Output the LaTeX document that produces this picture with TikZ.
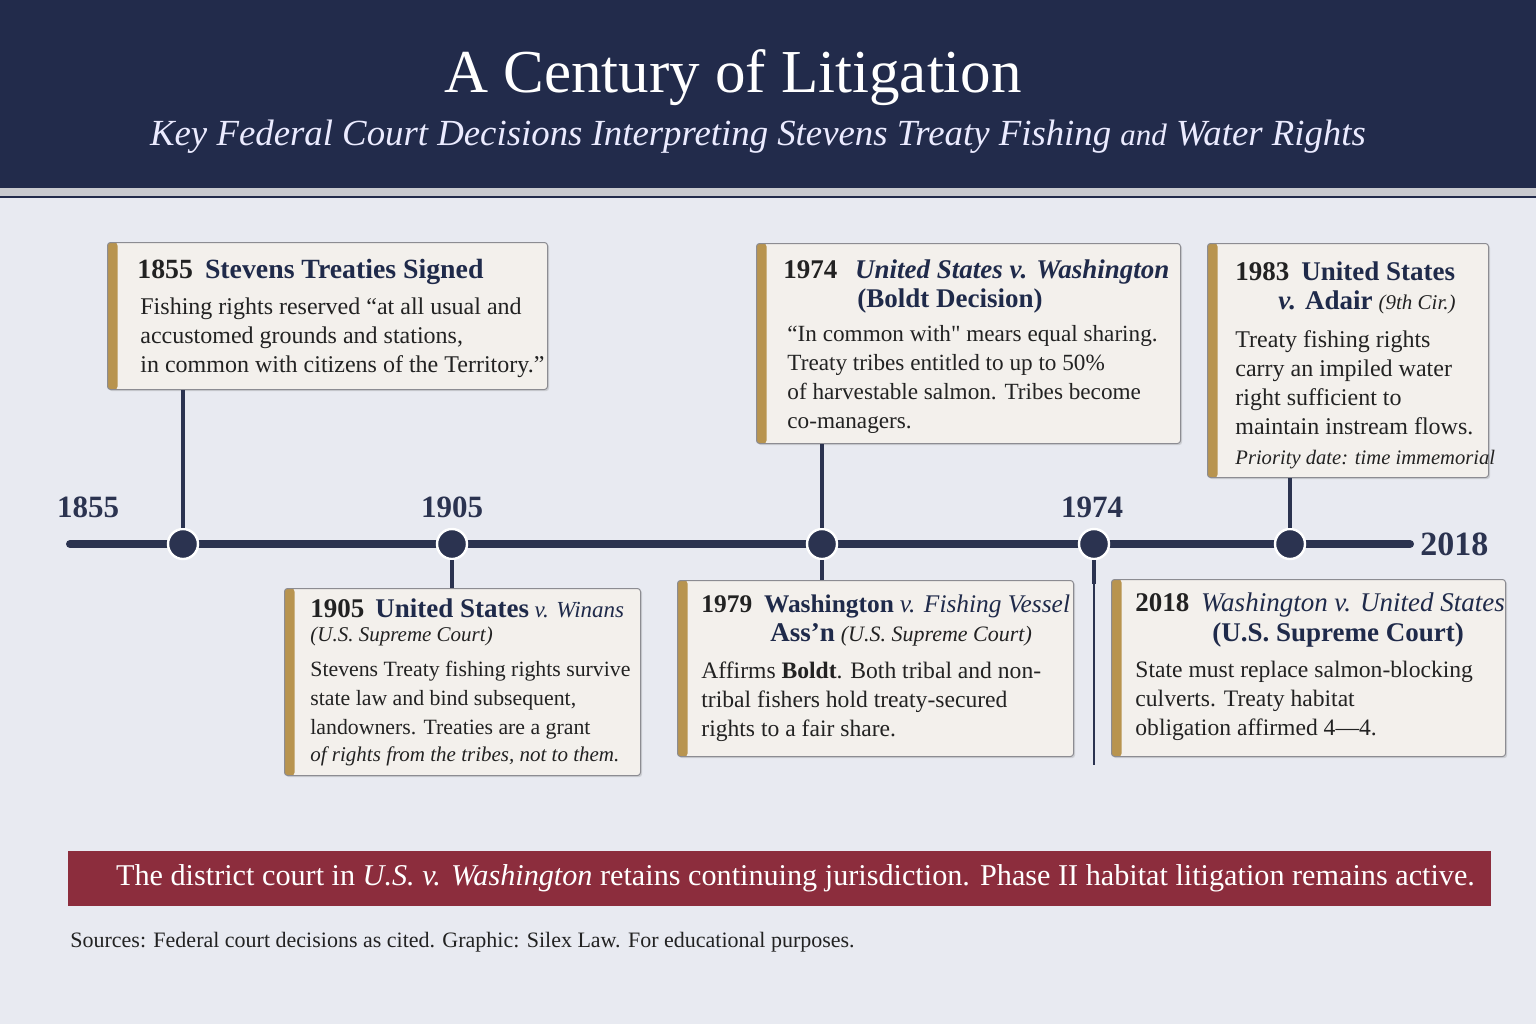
\documentclass[tikz,border=0pt]{standalone}
\usepackage{fontspec}
\setmainfont{Liberation Serif}
\usetikzlibrary{shadows}

\definecolor{hdrnavy}{HTML}{222B4B}
\definecolor{linenavy}{HTML}{2B3350}
\definecolor{inknavy}{HTML}{1F2A4A}
\definecolor{inkdark}{HTML}{222222}
\definecolor{goldbar}{HTML}{B8944F}
\definecolor{cardfill}{HTML}{F3F0EC}
\definecolor{cardedge}{HTML}{8C8C92}
\definecolor{bannerred}{HTML}{8C2D3D}
\definecolor{paper}{HTML}{E8EAF1}

\newcommand{\ttlsize}{13.5}
\newcommand{\yr}[1]{{\fontsize{\ttlsize}{14.5}\selectfont\bfseries\color{inkdark}#1}\enspace}
\newcommand{\hd}[1]{{\fontsize{\ttlsize}{14.5}\selectfont\bfseries\color{inknavy}#1}}
\newcommand{\hdit}[1]{{\fontsize{\ttlsize}{14.5}\selectfont\itshape\color{inknavy}#1}}
\newcommand{\court}[1]{{\fontsize{10.5}{14.5}\selectfont\itshape #1}}
\newcommand{\straightq}{{\addfontfeature{Ligatures=TeXOff}"}}

\tikzset{
  card/.style={draw=cardedge, line width=0.5pt, fill=cardfill, rounded corners=1.5pt,
    anchor=north west, inner sep=0pt,
    drop shadow={shadow xshift=0.8pt, shadow yshift=-0.8pt, opacity=0.25},
    path picture={\fill[goldbar] (path picture bounding box.north west) rectangle ([xshift=5pt]path picture bounding box.south west);}},
  ctext/.style={anchor=north west, inner sep=0pt, align=left, text=inkdark,
    font=\fontsize{12}{14.5}\selectfont},
  stem/.style={linenavy, line width=2.3pt},
  thinstem/.style={linenavy, line width=0.6pt},
  dot/.style={circle, fill=linenavy, draw=white, line width=1.2pt, minimum size=15pt, inner sep=0pt},
  year/.style={anchor=base, text=linenavy, font=\fontsize{15.5}{16}\selectfont\bfseries}
}

\begin{document}
\begin{tikzpicture}[x=0.5pt, y=-0.5pt]
  \useasboundingbox (0,0) rectangle (1536,1024);

  % background and header band
  \fill[paper] (0,0) rectangle (1536,1024);
  \fill[hdrnavy] (0,0) rectangle (1536,188);
  \fill[gray!30!paper] (0,188) rectangle (1536,196);
  \draw[line width=1.1pt, hdrnavy] (0,197) -- (1536,197);

  \node[anchor=base, text=white, font=\fontsize{30.5}{32}\selectfont] (title) at (733,92) {A Century of Litigation};
  \node[anchor=base, text=white!92!blue, font=\fontsize{18.4}{20}\selectfont\itshape] (subtitle) at (758,145)
    {Key Federal Court Decisions Interpreting Stevens Treaty Fishing {\fontsize{15.5}{20}\selectfont and} Water Rights};

  % timeline axis
  \coordinate (tlL) at (70,544);
  \coordinate (tlR) at (1410,544);
  \draw[linenavy, line width=4pt, line cap=round] (tlL) -- (tlR);

  % cards
  \node[card, minimum width=220pt, minimum height=73.5pt] (c1855) at (107,242) {};
  \node[card, minimum width=178pt, minimum height=93.5pt] (c1905) at (284,588) {};
  \node[card, minimum width=212pt, minimum height=100pt] (c1974) at (756,243) {};
  \node[card, minimum width=140.5pt, minimum height=117pt] (c1983) at (1207,243) {};
  \node[card, minimum width=198pt, minimum height=88pt] (c1979) at (677,580) {};
  \node[card, minimum width=197pt, minimum height=88.5pt] (c2018) at (1111,579) {};

  % card texts
  \node[ctext] (t1855) at (137,259) {\def\ttlsize{13.9}\yr{1855}\hd{Stevens Treaties Signed}\\[3.5pt]
    \hspace*{1.5pt}Fishing rights reserved “at all usual and\\
    \hspace*{1.5pt}accustomed grounds and stations,\\
    \hspace*{1.5pt}in common with citizens of the Territory.”};
  \node[ctext, font=\fontsize{10.9}{14.5}\selectfont] (t1905) at (310,598) {\yr{1905}\hd{United States} {\fontsize{11.5}{14.5}\selectfont\itshape\color{inknavy}v. Winans}\\[-2.5pt]
    \court{(U.S. Supreme Court)}\\[3pt]
    Stevens Treaty fishing rights survive\\
    state law and bind subsequent,\\
    landowners. Treaties are a grant\\[-1pt]
    {\fontsize{10.5}{14.5}\selectfont\itshape of rights from the tribes, not to them.}};
  \node[ctext, font=\fontsize{11.6}{14.5}\selectfont] (t1974) at (783,259) {\yr{1974}\hspace{3pt}{\fontsize{13.5}{14.5}\selectfont\bfseries\itshape\color{inknavy}United States v. Washington}\\
    \hspace*{37pt}\hd{(Boldt Decision)}\\[2.5pt]
    \hspace*{2pt}“In common with\straightq{} mears equal sharing.\\
    \hspace*{2pt}Treaty tribes entitled to up to 50\%\\
    \hspace*{2pt}of harvestable salmon. Tribes become\\
    \hspace*{2pt}co-managers.};
  \node[ctext] (t1983) at (1235,261) {\yr{1983}\hd{United States}\\
    \hspace*{21.5pt}\hd{\textit{v.} Adair} \court{(9th Cir.)}\\[4.5pt]
    Treaty fishing rights\\
    carry an impiled water\\
    right sufficient to\\
    maintain instream flows.\\[0.5pt]
    {\fontsize{10.3}{14.5}\selectfont\itshape Priority date: time immemorial}};
  \node[ctext, font=\fontsize{11.8}{14.5}\selectfont] (t1979) at (701,594) {\def\ttlsize{12.7}\yr{1979}\hd{Washington} \hdit{v. Fishing Vessel}\\
    \hspace*{34.5pt}\hd{Ass'n} {\fontsize{11}{14.5}\selectfont\itshape (U.S. Supreme Court)}\\[4pt]
    Affirms \textbf{Boldt}. Both tribal and non-\\
    tribal fishers hold treaty-secured\\
    rights to a fair share.};
  \node[ctext, font=\fontsize{11.8}{14.5}\selectfont] (t2018) at (1135,592) {\yr{2018}\hdit{Washington v. United States}\\[0.5pt]
    \hspace*{38.5pt}\hd{(U.S. Supreme Court)}\\[3.5pt]
    State must replace salmon-blocking\\
    culverts. Treaty habitat\\
    obligation affirmed 4—4.};

  % dots on the axis
  \node[dot] (dot1) at (183,544) {};
  \node[dot] (dot2) at (452,544) {};
  \node[dot] (dot3) at (822,544) {};
  \node[dot] (dot4) at (1094,544) {};
  \node[dot] (dot5) at (1290,544) {};

  % stems
  \draw[stem] (dot1.north) -- (dot1 |- c1855.south);
  \draw[stem] (dot2.south) -- (dot2 |- c1905.north);
  \draw[stem] (dot3.north) -- (dot3 |- c1974.south);
  \draw[stem] (dot3.south) -- (dot3 |- c1979.north);
  \draw[stem] (dot5.north) -- (dot5 |- c1983.south);
  \coordinate (stub) at (1094,584);
  \coordinate (tail) at (1094,765);
  \draw[stem] (dot4.south) -- (stub);
  \draw[thinstem] (stub) -- (tail);

  % year labels
  \node[year] (y1855) at (88,517) {1855};
  \node[year] (y1905) at (452,517) {1905};
  \node[year] (y1974) at (1092,517) {1974};
  \node[year, anchor=base west, inner sep=0pt, font=\fontsize{17}{18}\selectfont\bfseries] (y2018) at (1420,555) {2018};

  % banner and note
  \node[fill=bannerred, minimum width=711.5pt, minimum height=27.5pt, inner sep=0pt,
    text=white, font=\fontsize{15.1}{16}\selectfont] (banner) at (779.5,878.5)
    {\hspace{16pt}The district court in \textit{U.S. v. Washington} retains continuing jurisdiction. Phase II habitat litigation remains active.};
  \node[anchor=base west, inner sep=0pt, text=inkdark, font=\fontsize{11}{12}\selectfont] (note) at (70,947)
    {Sources: Federal court decisions as cited. Graphic: Silex Law. For educational purposes.};
\end{tikzpicture}
\end{document}
